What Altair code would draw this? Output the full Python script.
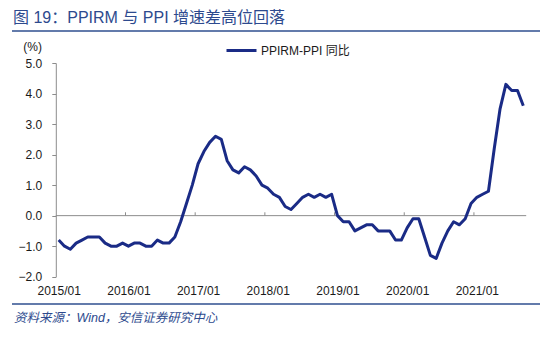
import json
import altair as alt
import pandas as pd

# ---------------- data ----------------
years = list(range(2015, 2022))
months = [f"{y}/{m:02d}" for y in years for m in range(1, 13)][:81]   # 2015/01 .. 2021/09
values = [
    -0.8, -1.0, -1.1, -0.9, -0.8, -0.7, -0.7, -0.7, -0.9, -1.0, -1.0, -0.9,   # 2015
    -1.0, -0.9, -0.9, -1.0, -1.0, -0.8, -0.9, -0.9, -0.7, -0.2, 0.4, 1.0,     # 2016
    1.7, 2.1, 2.4, 2.6, 2.5, 1.8, 1.5, 1.4, 1.6, 1.5, 1.3, 1.0,               # 2017
    0.9, 0.7, 0.6, 0.3, 0.2, 0.4, 0.6, 0.7, 0.6, 0.7, 0.6, 0.7,               # 2018
    0.0, -0.2, -0.2, -0.5, -0.4, -0.3, -0.3, -0.5, -0.5, -0.5, -0.8, -0.8,    # 2019
    -0.4, -0.1, -0.1, -0.7, -1.3, -1.4, -0.9, -0.5, -0.2, -0.3, -0.1, 0.4,    # 2020
    0.6, 0.7, 0.8, 2.2, 3.5, 4.3, 4.1, 4.1, 3.6,                              # 2021
]
series_name = "PPIRM-PPI 同比"
tick_labels = [f"{y}/01" for y in years]
y_ticks = [-2, -1, 0, 1, 2, 3, 4, 5]
title_text = "图 19：PPIRM 与 PPI 增速差高位回落"
source_text = "资料来源：Wind，安信证券研究中心"
unit_text = "(%)"

tick_index = [months.index(t) for t in tick_labels]
boundaries = [i - 0.5 for i in tick_index[1:]]

df = pd.DataFrame({"i": list(range(len(months))), "month": months,
                   "v": values, "series": [series_name] * len(months)})
zero_df = pd.DataFrame({"v": [0.0]})
tick_df = pd.DataFrame({"i": boundaries, "v": [0.0] * len(boundaries),
                        "v1": [0.11] * len(boundaries)})
one = pd.DataFrame({"a": [0]})

# ---------------- layout ----------------
PL, PT = 55.8, 63.0
W, H = 470.4, 213.7
PR = 550 - PL - W
PB = 342 - PT - H

LATIN = "Liberation Sans, Arial, Noto Sans CJK SC"
NAVY = "#1a2b86"
GRAY = "#8c8c8c"
BLUE_T = "#2d4a8e"

xscale = alt.Scale(domain=[-0.5, len(months) - 0.5], nice=False, zero=False)
yscale = alt.Scale(domain=[y_ticks[0], y_ticks[-1]], nice=False, zero=False)

label_expr = f"{json.dumps(tick_labels)}[round(datum.value / 12)]"

x_axis = alt.Axis(values=tick_index, labelExpr=label_expr, domain=False, ticks=False,
                  tickSize=0, grid=False, labelPadding=9, labelFontSize=12,
                  labelFont=LATIN, labelColor="#1a1a1a", title=None,
                  labelOverlap=False, labelFlush=False)
y_axis = alt.Axis(values=y_ticks, format=".1f", domain=True, domainColor=GRAY,
                  ticks=True, tickSize=4, tickColor=GRAY, grid=False,
                  labelPadding=10, labelFontSize=12, labelFont=LATIN,
                  labelColor="#1a1a1a", title=None,
                  labelOverlap=False, labelFlush=False)

X = alt.X("i:Q", scale=xscale, axis=x_axis)
Y = alt.Y("v:Q", scale=yscale, axis=y_axis)

zero_line = alt.Chart(zero_df).mark_rule(color=GRAY, strokeWidth=1).encode(y=Y)

ticks = alt.Chart(tick_df).mark_rule(color=GRAY, strokeWidth=1).encode(
    x=X, y=Y, y2="v1:Q")

line = alt.Chart(df).mark_line(strokeWidth=3, strokeJoin="round").encode(
    x=X, y=Y,
    color=alt.Color("series:N", scale=alt.Scale(domain=[series_name], range=[NAVY]),
                    legend=alt.Legend(orient="none", legendX=169.2, legendY=-29,
                                      title=None, symbolType="stroke", symbolSize=900,
                                      symbolStrokeWidth=3, labelFontSize=12,
                                      labelFont=LATIN, labelColor="#1a1a1a",
                                      labelOffset=3, padding=0)))

title = alt.Chart(one).mark_text(text=title_text, align="left", baseline="middle",
                                 font=LATIN, fontSize=16, color=BLUE_T).encode(
    x=alt.value(13 - PL), y=alt.value(18 - PT))
top_rule = alt.Chart(one).mark_rule(color="#2f4f8f", strokeWidth=1.5).encode(
    x=alt.value(12 - PL), x2=alt.value(540 - PL), y=alt.value(31 - PT))
bottom_rule = alt.Chart(one).mark_rule(color="#2f4f8f", strokeWidth=1.5).encode(
    x=alt.value(12 - PL), x2=alt.value(540 - PL), y=alt.value(304 - PT))
source = alt.Chart(one).mark_text(text=source_text, align="left", baseline="middle",
                                  font=LATIN, fontSize=12.5, fontStyle="italic",
                                  color=BLUE_T).encode(
    x=alt.value(14 - PL), y=alt.value(318 - PT))
unit = alt.Chart(one).mark_text(text=unit_text, align="center", baseline="middle",
                                font=LATIN, fontSize=12, color="#1a1a1a").encode(
    x=alt.value(32.7 - PL), y=alt.value(46.5 - PT))

chart = alt.layer(zero_line, ticks, line, title, top_rule, bottom_rule, source, unit).properties(
    width=W, height=H,
    autosize=alt.AutoSizeParams(type="none"),
    padding={"left": PL, "top": PT, "right": PR, "bottom": PB},
    background="white",
).configure_view(stroke=None)

chart.save("out.html", embed_options={"renderer": "svg", "actions": False})
